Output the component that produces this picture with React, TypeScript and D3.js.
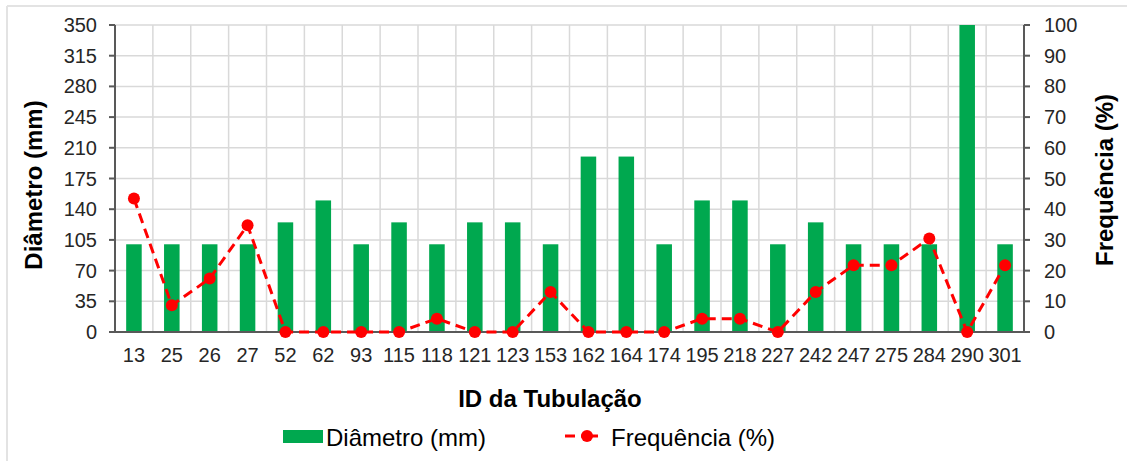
import React from "react";
import * as d3 from "d3";

const categories = ["13","25","26","27","52","62","93","115","118","121","123","153","162","164","174","195","218","227","242","247","275","284","290","301"];
const diametro = [100,100,100,100,125,150,100,125,100,125,125,100,200,200,100,150,150,100,125,100,100,100,350,100];
const frequencia = [43.48,8.7,17.39,34.78,0,0,0,0,4.35,0,0,13.04,0,0,0,4.35,4.35,0,13.04,21.74,21.74,30.43,0,21.74];
const leftTicks = [0,35,70,105,140,175,210,245,280,315,350];
const rightTicks = [0,10,20,30,40,50,60,70,80,90,100];

const W = 1127, H = 461;
const left = 115, right = 1024, top = 25, bottom = 332;
const FONT = "'Liberation Sans', Arial, sans-serif";
const GREEN = "#00a84f";
const RED = "#ff0000";
const AXIS = "#595959";
const GRID = "#d9d9d9";

export default function App() {
  const x = d3.scaleBand<string>().domain(categories).range([left, right]).padding(0);
  const yL = d3.scaleLinear().domain([0, 350]).range([bottom, top]);
  const yR = d3.scaleLinear().domain([0, 100]).range([bottom, top]);
  const bw = x.bandwidth() * 0.41;
  const cx = (c: string) => (x(c) as number) + x.bandwidth() / 2;
  const line = d3.line<number>().x((_, i) => cx(categories[i])).y((d) => yR(d));

  return (
    <svg width={W} height={H} style={{ position: "absolute", left: 0, top: 0, background: "#fff" }} fontFamily={FONT}>
      <line x1={7} y1={6} x2={W} y2={6} stroke="#e3e3e3" strokeWidth={2} />
      <line x1={7} y1={6} x2={7} y2={H} stroke="#e3e3e3" strokeWidth={2} />
      {/* grid */}
      {leftTicks.map((t) => (
        <line key={"h" + t} x1={left} x2={right} y1={yL(t)} y2={yL(t)} stroke={GRID} strokeWidth={1.5} />
      ))}
      {categories.slice(1).map((c) => (
        <line key={"v" + c} x1={x(c)} x2={x(c)} y1={top} y2={bottom} stroke={GRID} strokeWidth={1.5} />
      ))}
      {/* bars */}
      {categories.map((c, i) => (
        <rect key={"b" + c} x={cx(c) - bw / 2} y={yL(diametro[i])} width={bw} height={bottom - yL(diametro[i])} fill={GREEN} />
      ))}
      {/* axes */}
      <line x1={left} x2={right} y1={bottom} y2={bottom} stroke={AXIS} strokeWidth={2} />
      <line x1={left} x2={left} y1={top} y2={bottom} stroke={AXIS} strokeWidth={2} />
      <line x1={right} x2={right} y1={top} y2={bottom} stroke={AXIS} strokeWidth={2} />
      {leftTicks.map((t) => (
        <g key={"lt" + t}>
          <line x1={left - 6} x2={left} y1={yL(t)} y2={yL(t)} stroke={AXIS} strokeWidth={2} />
          <text x={97} y={yL(t)} dy="0.35em" textAnchor="end" fontSize={20} fill="#262626">{t}</text>
        </g>
      ))}
      {rightTicks.map((t) => (
        <g key={"rt" + t}>
          <line x1={right} x2={right + 6} y1={yR(t)} y2={yR(t)} stroke={AXIS} strokeWidth={2} />
          <text x={1044} y={yR(t)} dy="0.35em" textAnchor="start" fontSize={20} fill="#262626">{t}</text>
        </g>
      ))}
      {categories.map((c) => (
        <text key={"xt" + c} x={cx(c)} y={362} textAnchor="middle" fontSize={20} fill="#262626">{c}</text>
      ))}
      {/* line */}
      <path d={line(frequencia) || ""} fill="none" stroke={RED} strokeWidth={3} strokeDasharray="10,6" />
      {frequencia.map((v, i) => (
        <circle key={"p" + i} cx={cx(categories[i])} cy={yR(v)} r={6} fill={RED} />
      ))}
      {/* titles */}
      <text transform={`translate(42,185) rotate(-90)`} textAnchor="middle" fontSize={24} fontWeight="bold" fill="#000">Diâmetro (mm)</text>
      <text transform={`translate(1113,180) rotate(-90)`} textAnchor="middle" fontSize={24} fontWeight="bold" fill="#000">Frequência (%)</text>
      <text x={550} y={407} textAnchor="middle" fontSize={24} fontWeight="bold" fill="#000">ID da Tubulação</text>
      {/* legend */}
      <rect x={283} y={430} width={40} height={13} fill={GREEN} />
      <text x={326} y={446} fontSize={24} fill="#000">Diâmetro (mm)</text>
      <line x1={565} x2={598} y1={436} y2={436} stroke={RED} strokeWidth={3} strokeDasharray="10,6,17" />
      <circle cx={587} cy={436} r={6} fill={RED} />
      <text x={611} y={446} fontSize={24} fill="#000">Frequência (%)</text>
    </svg>
  );
}
